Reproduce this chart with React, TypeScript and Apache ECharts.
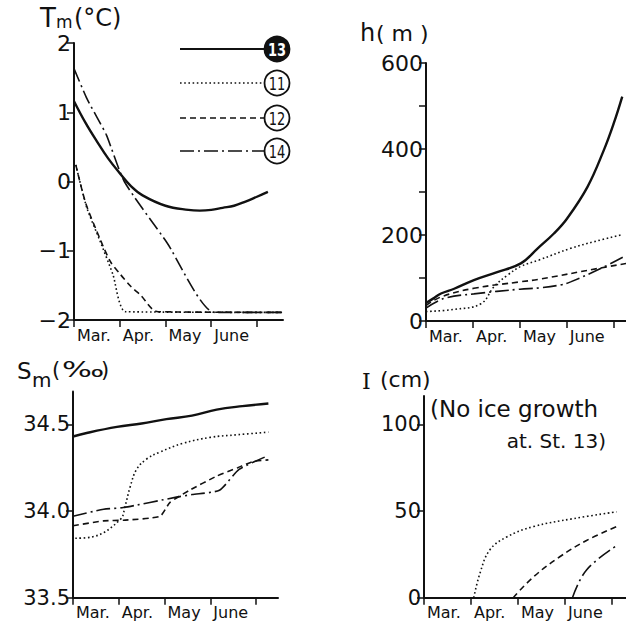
import React, { useEffect, useRef } from "react";
import * as echarts from "echarts";

// ---------- data (x in months after 1 March) ----------
const monthNames = ["Mar.", "Apr.", "May", "June"];

// Tm (°C)
const tmX13 = [0, 0.25, 0.5, 0.75, 1.0, 1.25, 1.5, 2.0, 2.5, 2.75, 3.0, 3.25, 3.5, 3.75, 4.0, 4.24];
const tmY13 = [1.16, 0.85, 0.58, 0.33, 0.12, -0.07, -0.2, -0.35, -0.41, -0.42, -0.41, -0.38, -0.35, -0.29, -0.22, -0.15];
const tmX11 = [0.04, 0.28, 0.57, 0.85, 1.13, 4.55];
const tmY11 = [0.24, -0.38, -0.86, -1.34, -1.88, -1.89];
const tmX12 = [0.04, 0.25, 0.5, 0.79, 1.0, 1.25, 1.44, 1.84, 4.55];
const tmY12 = [0.24, -0.3, -0.72, -1.15, -1.33, -1.52, -1.63, -1.88, -1.89];
const tmX14 = [0, 0.28, 0.5, 0.71, 1.1, 2.03, 3.07, 4.55];
const tmY14 = [1.63, 1.2, 0.93, 0.67, 0, -0.88, -1.89, -1.89];

// h (m)
const hX13 = [0, 0.15, 0.32, 0.6, 1.02, 1.5, 2.02, 2.38, 2.73, 3.01, 3.44, 3.79, 4.0, 4.18];
const hY13 = [42, 52, 64, 75, 95, 113, 134, 169, 204, 239, 312, 398, 460, 522];
const hX11 = [0, 0.6, 1.17, 1.45, 1.74, 2.02, 2.41, 3.08, 3.6, 4.15];
const hY11 = [22, 27, 40, 80, 107, 127, 142, 169, 185, 200];
const hX12 = [0, 0.32, 1.02, 2.0, 2.41, 3.65, 4.28];
const hY12 = [36, 56, 76, 91, 97, 122, 134];
const hX14 = [0, 0.4, 1.02, 2.0, 2.41, 2.87, 3.08, 3.72, 4.22];
const hY14 = [30, 53, 63, 74, 77, 84, 91, 122, 150];

// Sm (‰)
const smX13 = [0, 0.3, 0.96, 1.5, 2.04, 2.6, 3.14, 3.7, 4.27];
const smY13 = [34.43, 34.45, 34.485, 34.505, 34.53, 34.55, 34.585, 34.605, 34.62];
const smX11 = [0.05, 0.41, 1.03, 1.14, 1.25, 1.39, 1.61, 1.9, 2.4, 3.0, 3.6, 4.27];
const smY11 = [33.843, 33.85, 33.95, 34.03, 34.14, 34.24, 34.3, 34.34, 34.39, 34.425, 34.44, 34.455];
const smX12 = [0, 0.67, 1.1, 1.9, 2.12, 2.55, 3.13, 3.6, 3.93, 4.27];
const smY12 = [33.915, 33.943, 33.947, 33.97, 34.05, 34.12, 34.2, 34.25, 34.285, 34.295];
const smX14 = [0, 0.67, 1.1, 2.26, 2.6, 3.2, 3.63, 4.27];
const smY14 = [33.97, 34.01, 34.02, 34.08, 34.095, 34.12, 34.24, 34.32];

// I (cm)
const iX11 = [1.06, 1.19, 1.4, 1.76, 2.33, 3.18, 4.1];
const iY11 = [0, 14, 27.5, 35, 41, 45.6, 49.5];
const iX12 = [1.9, 2.33, 2.89, 3.46, 4.1];
const iY12 = [0, 12, 23.6, 33, 41];
const iX14 = [3.16, 3.46, 4.1];
const iY14 = [0, 16, 30];

// tick values
const monthTicks = [0, 1, 2, 3, 4];
const monthLabelPos = [0, 1, 2, 3];
const tmTicks = [-2, -1, 0, 1, 2];
const hTicks = [0, 100, 200, 300, 400, 500, 600];
const hLabels = [0, 200, 400, 600];
const smTicks = [33.5, 34.0, 34.5];
const iTicks = [0, 50, 100];

const legendStations = ["13", "11", "12", "14"];

// ---------- styles ----------
const INK = "#111";
const FONT = "DejaVu Sans";
const styles: Record<string, any> = {
  "13": { type: "solid", width: 2.4 },
  "11": { type: [1.6, 2.6], width: 1.6 },
  "12": { type: [6, 4], width: 1.6 },
  "14": { type: [14, 4, 2, 4], width: 1.6 },
};
const dashArr: Record<string, any> = {
  "13": null,
  "11": [1.6, 2.6],
  "12": [6, 4],
  "14": [14, 4, 2, 4],
};

const zip = (xs: number[], ys: number[]) => xs.map((x, i) => [x, ys[i]]);

function line(st: string, idx: number, xs: number[], ys: number[], smooth = 0.4) {
  return {
    type: "line",
    xAxisIndex: idx,
    yAxisIndex: idx,
    data: zip(xs, ys),
    showSymbol: false,
    smooth,
    lineStyle: { color: INK, ...styles[st] },
    silent: true,
  };
}

function xAxis(idx: number, max: number) {
  return {
    type: "value",
    gridIndex: idx,
    min: 0,
    max,
    splitLine: { show: false },
    axisLine: { show: true, onZero: false, lineStyle: { color: INK, width: 2 } },
    axisTick: { show: true, customValues: monthTicks, length: 7, lineStyle: { color: INK, width: 1.5 } },
    axisLabel: {
      customValues: monthLabelPos,
      formatter: (v: number) => monthNames[Math.round(v)] ?? "",
      align: "left",
      padding: [0, 0, 0, 3],
      margin: 7,
      color: INK,
      fontFamily: FONT,
      fontSize: 16,
    },
  };
}

function yAxis(idx: number, min: number, max: number, ticks: number[], labels: number[], fmt: (v: number) => string, fs: number) {
  return {
    type: "value",
    gridIndex: idx,
    min,
    max,
    splitLine: { show: false },
    axisLine: { show: true, onZero: false, lineStyle: { color: INK, width: 2 } },
    axisTick: { show: true, customValues: ticks, length: 7, lineStyle: { color: INK, width: 1.5 } },
    axisLabel: { customValues: labels, formatter: fmt, margin: 3, color: INK, fontFamily: FONT, fontSize: fs },
  };
}

function txt(x: number, y: number, text: string, fontSize: number, extra: any = {}, el: any = {}) {
  return {
    type: "text",
    x,
    y,
    silent: true,
    ...el,
    style: { text, fill: INK, font: `${fontSize}px "${FONT}"`, verticalAlign: "middle", align: "left", ...extra },
  };
}

function legendGraphics() {
  const ys = [49, 83, 118, 151];
  const items: any[] = [];
  legendStations.forEach((st, i) => {
    const y = ys[i];
    items.push({
      type: "line",
      silent: true,
      shape: { x1: 180, y1: y, x2: 264, y2: y },
      style: { stroke: INK, lineWidth: st === "13" ? 2.2 : 1.5, lineDash: dashArr[st] },
    });
    const filled = st === "13";
    items.push({
      type: "circle",
      silent: true,
      shape: { cx: 277, cy: y, r: 12.5 },
      style: { fill: filled ? INK : "#fff", stroke: INK, lineWidth: 1.8 },
    });
    items.push({
      type: "text",
      silent: true,
      x: 277,
      y: y + 1,
      scaleX: 0.85,
      style: {
        text: st,
        fill: filled ? "#fff" : INK,
        font: `${filled ? "bold " : ""}17px "DejaVu Sans Condensed", "DejaVu Sans"`,
        align: "center",
        verticalAlign: "middle",
      },
    });
  });
  return items;
}

export default function App() {
  const ref = useRef<HTMLDivElement>(null);
  useEffect(() => {
    if (!ref.current) return;
    const chart = echarts.init(ref.current, null, { renderer: "svg" });
    const minusFmt = (v: number) => (v < 0 ? "\u2212" + Math.abs(v) : String(v));
    const option: any = {
      animation: false,
      backgroundColor: "#fff",
      grid: [
        { left: 74, top: 43, width: 209, height: 277 },
        { left: 426, top: 63, width: 200, height: 258 },
        { left: 73, top: 391.4, width: 205, height: 206.3 },
        { left: 424, top: 396, width: 202, height: 201.7 },
      ],
      xAxis: [xAxis(0, 4.57), xAxis(1, 4.26), xAxis(2, 4.48), xAxis(3, 4.3)],
      yAxis: [
        yAxis(0, -2, 2, tmTicks, tmTicks, minusFmt, 22),
        yAxis(1, 0, 600, hTicks, hLabels, (v) => String(v), 22),
        yAxis(2, 33.5, 34.69, smTicks, smTicks, (v) => v.toFixed(1), 21),
        yAxis(3, 0, 116.3, iTicks, iTicks, (v) => String(v), 21),
      ],
      series: [
        line("11", 0, tmX11, tmY11, 0.2),
        line("12", 0, tmX12, tmY12, 0.3),
        line("14", 0, tmX14, tmY14, 0.2),
        line("13", 0, tmX13, tmY13),
        line("11", 1, hX11, hY11),
        line("12", 1, hX12, hY12),
        line("14", 1, hX14, hY14),
        line("13", 1, hX13, hY13),
        line("11", 2, smX11, smY11),
        line("12", 2, smX12, smY12, 0.2),
        line("14", 2, smX14, smY14, 0.2),
        line("13", 2, smX13, smY13),
        line("11", 3, iX11, iY11),
        line("12", 3, iX12, iY12),
        line("14", 3, iX14, iY14),
      ],
      graphic: [
        // Tm (°C)
        txt(40, 18, "T", 26),
        txt(56, 22, "m", 17),
        txt(74, 18, "(°C)", 24),
        // h (m)
        txt(360, 33, "h", 24),
        txt(376, 33, "( m )", 22),
        // Sm (‰)
        txt(17, 371, "S", 23),
        txt(32, 380, "m", 20),
        txt(52, 370, "(", 21),
        txt(62, 370, "‰", 21, {}, { scaleX: 1.5 }),
        txt(101, 370, ")", 21),
        // I (cm)
        txt(362, 381, "I", 23, { font: `22px "DejaVu Serif"` }),
        txt(380, 379, "(cm)", 22),
        txt(430, 409, "(No ice growth", 23),
        txt(606, 441, "at. St. 13)", 20, { align: "right" }),
        ...legendGraphics(),
      ],
    };
    chart.setOption(option);
    return () => chart.dispose();
  }, []);
  return <div ref={ref} style={{ width: 626, height: 624, position: "absolute", left: 0, top: 0 }} />;
}
